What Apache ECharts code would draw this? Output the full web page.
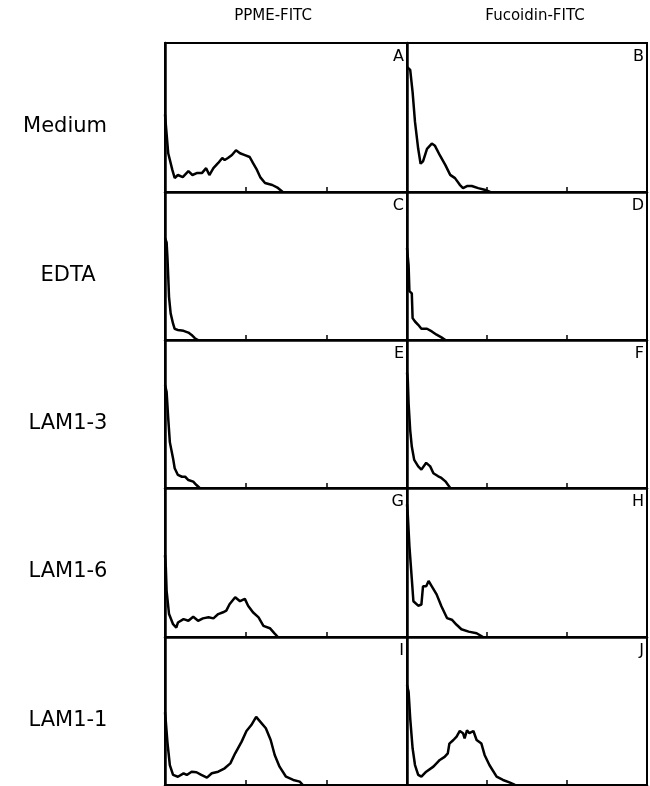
<!DOCTYPE html>
<html>
<head>
<meta charset="utf-8">
<script src="https://cdn.jsdelivr.net/npm/echarts@6/dist/echarts.min.js"></script>
<style>html,body{margin:0;padding:0;background:#fff}#c{width:650px;height:786px}</style>
</head>
<body>
<div id="c"></div>
<script>
// Column headers and row labels
const columnLabels = ['PPME-FITC', 'Fucoidin-FITC'];
const rowLabels = ['Medium', 'EDTA', 'LAM1-3', 'LAM1-6', 'LAM1-1'];
const panelLetters = ['A','B','C','D','E','F','G','H','I','J'];

// x: log fluorescence (decades, 0-3), y: relative cell number (% of panel height)
const histA = [[0,52],[0.04,26],[0.09,15],[0.12,9.4],[0.16,11.4],[0.22,10],[0.29,14],[0.34,11.4],[0.40,12.8],[0.46,12.8],[0.51,16],[0.55,11.4],[0.60,16],[0.66,19.5],[0.71,22.8],[0.74,21.5],[0.78,22.8],[0.83,24.8],[0.88,28],[0.93,26],[0.99,24.8],[1.05,23.5],[1.09,19.5],[1.14,14.8],[1.18,10],[1.24,6],[1.33,4.7],[1.40,2.7],[1.46,0]];
const histB = [[0,84],[0.04,82],[0.07,67],[0.10,47],[0.14,29],[0.17,19],[0.20,20.5],[0.25,29],[0.31,32.5],[0.35,31],[0.41,24.7],[0.48,18],[0.54,11.5],[0.60,9.3],[0.66,4.8],[0.70,2.6],[0.75,4],[0.81,4],[0.89,2.6],[0.97,1.5],[1.04,0]];
const histC = [[0,69],[0.02,66],[0.03,56],[0.04,43],[0.05,29],[0.07,18],[0.10,11],[0.12,7.5],[0.16,6.8],[0.23,6.2],[0.29,5],[0.33,3.4],[0.37,1.2],[0.41,0]];
const histD = [[0,62],[0.02,50.5],[0.03,33],[0.06,31.5],[0.07,14.8],[0.10,12.5],[0.14,10.3],[0.18,7.6],[0.25,7.6],[0.31,5.8],[0.37,3.6],[0.43,1.8],[0.48,0]];
const histE = [[0,69.6],[0.02,65],[0.04,47],[0.06,31],[0.10,20],[0.12,13.3],[0.16,8.8],[0.21,7.6],[0.25,7.6],[0.29,5.4],[0.35,4.3],[0.39,2],[0.43,0]];
const histF = [[0,78],[0.01,73],[0.02,57],[0.04,39],[0.06,28],[0.09,19],[0.14,14.6],[0.18,12.4],[0.24,17],[0.29,14.6],[0.33,10],[0.39,7.9],[0.43,6.8],[0.48,4.5],[0.52,1.6],[0.54,0]];
const histG = [[0,55],[0.01,47],[0.02,31],[0.05,15.4],[0.10,8.6],[0.14,6.3],[0.16,9.7],[0.23,12],[0.29,10.9],[0.35,13.6],[0.41,10.9],[0.47,12.5],[0.54,13.2],[0.60,12.5],[0.66,15.4],[0.72,16.6],[0.76,17.7],[0.80,22],[0.87,26.7],[0.93,24],[0.99,25.6],[1.03,21],[1.09,16.6],[1.16,13.2],[1.22,7.5],[1.30,5.9],[1.36,2.3],[1.40,0]];
const histH = [[0,89],[0.01,82],[0.03,61],[0.06,39],[0.08,24],[0.14,21],[0.18,21.8],[0.20,34],[0.24,34],[0.27,37.6],[0.31,34],[0.37,28.6],[0.43,20.6],[0.50,12.7],[0.56,11.6],[0.62,8.2],[0.68,5.2],[0.77,3.6],[0.87,2.5],[0.95,0]];
const histI = [[0,49],[0.01,43],[0.03,29],[0.06,13.5],[0.10,6.8],[0.16,5.6],[0.23,7.9],[0.27,6.8],[0.33,9],[0.39,8.6],[0.45,6.8],[0.52,5],[0.58,7.9],[0.66,9],[0.74,11.3],[0.81,14.6],[0.87,21.4],[0.95,29.3],[1.01,36.5],[1.07,40.5],[1.13,46],[1.18,42.8],[1.25,38.3],[1.31,30.4],[1.36,20.3],[1.42,12.4],[1.50,5.6],[1.59,3.4],[1.67,2.3],[1.71,0]];
const histJ = [[0,67.6],[0.02,63],[0.04,45],[0.07,24.8],[0.10,13.5],[0.14,6.8],[0.18,5.6],[0.24,9],[0.33,12.4],[0.41,16.9],[0.47,19],[0.51,21.4],[0.53,28],[0.58,30.4],[0.62,32.7],[0.66,36.5],[0.70,35],[0.72,31.5],[0.75,37],[0.78,35],[0.83,36.5],[0.87,30.4],[0.93,28],[0.97,20.3],[1.03,13.5],[1.12,5.6],[1.20,3.4],[1.28,1.8],[1.35,0]];

const histograms = [histA, histB, histC, histD, histE, histF, histG, histH, histI, histJ];

// layout
const colLeft = [165, 407];
const colWidth = [242, 240];
const rowTop = [43, 192, 340, 488, 637];
const rowHeight = [149, 148, 148, 149, 148];

const grids = [], xAxes = [], yAxes = [], series = [], graphics = [];
for (let i = 0; i < 10; i++) {
  const r = Math.floor(i / 2), c = i % 2;
  grids.push({
    left: colLeft[c], top: rowTop[r], width: colWidth[c], height: rowHeight[r],
    show: true, borderColor: '#000', borderWidth: 2, backgroundColor: 'transparent'
  });
  xAxes.push({
    type: 'value', gridIndex: i, min: 0, max: 3, interval: 1,
    axisLine: { show: true, lineStyle: { color: '#000', width: 2.5 } },
    axisTick: { show: true, inside: true, length: 5, lineStyle: { color: '#000', width: 1.5 } },
    axisLabel: { show: false }, splitLine: { show: false }
  });
  yAxes.push({
    type: 'value', gridIndex: i, min: 0, max: 100,
    axisLine: { show: true, lineStyle: { color: '#000', width: 2.5 } },
    axisTick: { show: false }, axisLabel: { show: false }, splitLine: { show: false }
  });
  series.push({
    type: 'line', xAxisIndex: i, yAxisIndex: i, data: histograms[i],
    showSymbol: false, smooth: false, animation: false,
    lineStyle: { color: '#000', width: 2.5 }
  });
  graphics.push({
    type: 'text', x: colLeft[c] + colWidth[c] - 3, y: rowTop[r] + 6,
    style: { text: panelLetters[i], fontSize: 16, fontFamily: 'DejaVu Sans', fill: '#000', align: 'right', verticalAlign: 'top' }
  });
}
const rowLabelX = [65, 68, 68, 68, 68];
for (let r = 0; r < 5; r++) {
  graphics.push({
    type: 'text', x: rowLabelX[r], y: rowTop[r] + 84,
    style: { text: rowLabels[r], fontSize: 21, fontFamily: 'DejaVu Sans', fill: '#000', align: 'center', verticalAlign: 'middle' }
  });
}
const colHeadX = [273, 535];
for (let c = 0; c < 2; c++) {
  graphics.push({
    type: 'text', x: colHeadX[c], y: 16,
    style: { text: columnLabels[c], fontSize: 15, fontFamily: 'DejaVu Sans', fill: '#000', align: 'center', verticalAlign: 'middle' }
  });
}

const chart = echarts.init(document.getElementById('c'), null, { renderer: 'canvas' });
chart.setOption({
  animation: false,
  backgroundColor: '#fff',
  grid: grids, xAxis: xAxes, yAxis: yAxes, series: series, graphic: graphics
});
</script>
</body>
</html>
